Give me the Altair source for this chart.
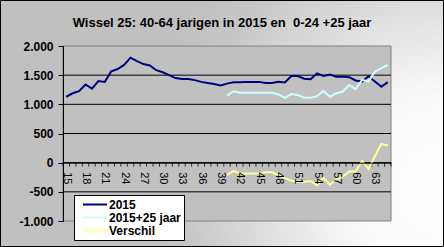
import altair as alt
import pandas as pd

# ---- data ----
ages = list(range(15, 66))
v2015 = [1130, 1190, 1225, 1340, 1270, 1400, 1385, 1565, 1605, 1675,
         1800, 1740, 1690, 1665, 1585, 1550, 1500, 1450, 1435, 1435,
         1415, 1385, 1365, 1350, 1325, 1355, 1380, 1380, 1385, 1385,
         1385, 1365, 1365, 1385, 1375, 1485, 1485, 1440, 1430, 1530,
         1485, 1510, 1475, 1475, 1465, 1410, 1390, 1480, 1390, 1300,
         1380]

ages_late = list(range(40, 66))
v_plus25 = [1145, 1225, 1200, 1200, 1200, 1200, 1200, 1200, 1170, 1110,
            1175, 1160, 1115, 1115, 1140, 1230, 1130, 1190, 1220, 1330,
            1260, 1420, 1390, 1560, 1620, 1675]
v_diff = [-210, -145, -180, -185, -185, -185, -165, -165, -215, -265,
          -310, -325, -325, -315, -390, -255, -380, -285, -240, -150,
          -150, 30, -110, 110, 320, 295]

series_names = ["2015", "2015+25 jaar", "Verschil"]
series_colors = ["#000080", "#CCFFFF", "#FFFF99"]

y_ticks = [-1000, -500, 0, 500, 1000, 1500, 2000]
grid_vals = [-500, 0, 500, 1000, 1500]
x_label_vals = ages[::3]
tick_bounds = [a - 0.5 for a in ages] + [ages[-1] + 0.5]

title_text = "Wissel 25: 40-64 jarigen in 2015 en\u00a0 0-24 +25 jaar"

# ---- tables ----
rows = []
for a, v in zip(ages, v2015):
    rows.append({"series": series_names[0], "age": a, "value": v})
for a, v in zip(ages_late, v_plus25):
    rows.append({"series": series_names[1], "age": a, "value": v})
for a, v in zip(ages_late, v_diff):
    rows.append({"series": series_names[2], "age": a, "value": v})
df = pd.DataFrame(rows)

W, H = 328, 175
PAD = {"left": 63, "top": 46, "right": 53, "bottom": 26}
FONT = "Liberation Sans"

xscale = alt.Scale(domain=[ages[0] - 0.5, ages[-1] + 0.5], nice=False, zero=False)
yscale = alt.Scale(domain=[y_ticks[0], y_ticks[-1]], nice=False, zero=False)
zero_offset = -(H - H * (y_ticks[-1] - 0) / (y_ticks[-1] - y_ticks[0]))

x_axis = alt.Axis(values=x_label_vals, offset=zero_offset, labelAngle=90,
                  ticks=False, domainColor="black", domainWidth=1,
                  labelFont=FONT, labelFontSize=11, labelColor="black",
                  labelPadding=9, grid=False, labelFlush=False,
                  labelOverlap=False, zindex=1)
y_axis = alt.Axis(values=y_ticks,
                  labelExpr="(datum.value < 0 ? '-' : '') + replace(format(abs(datum.value), ','), ',', '.')",
                  labelFont=FONT, labelFontSize=12, labelFontWeight="bold",
                  labelColor="black", tickSize=5, tickColor="black",
                  domainColor="black", labelPadding=5, grid=False, zindex=1)

one = pd.DataFrame({"k": [0]})

grad = alt.RadialGradient(
    gradient="radial",
    stops=[alt.GradientStop(color="#ffffff", offset=0),
           alt.GradientStop(color="#fafafa", offset=0.3),
           alt.GradientStop(color="#c6c6c6", offset=0.85),
           alt.GradientStop(color="#c0c0c0", offset=1)],
    x1=1, y1=0.65, r1=0, x2=1, y2=0.65, r2=0.7,
)

bg = alt.Chart(one).mark_rect(fill=grad, stroke="black", strokeWidth=1).encode(
    x=alt.value(-PAD["left"] + 0.5), x2=alt.value(W + PAD["right"] - 0.5),
    y=alt.value(-PAD["top"] + 0.5), y2=alt.value(H + PAD["bottom"] - 0.5),
)

plotbg = alt.Chart(one).mark_rect(fill="#c0c0c0", stroke="#808080", strokeWidth=1).encode(
    x=alt.value(0), x2=alt.value(W), y=alt.value(0), y2=alt.value(H),
)

title = alt.Chart(pd.DataFrame({"t": [title_text]})).mark_text(
    font=FONT, fontSize=13, fontWeight="bold", color="black",
    align="center", baseline="alphabetic"
).encode(text="t:N", x=alt.value(W / 2 - 5), y=alt.value(-19))

grid = alt.Chart(pd.DataFrame({"v": grid_vals})).mark_rule(color="black", strokeWidth=1).encode(
    y=alt.Y("v:Q", scale=yscale, axis=y_axis, title=None),
)

ticks = alt.Chart(pd.DataFrame({"b": tick_bounds, "z": [0] * len(tick_bounds)})).mark_tick(
    orient="vertical", size=4, thickness=1, color="black", yOffset=2
).encode(
    x=alt.X("b:Q", scale=xscale, axis=x_axis, title=None),
    y=alt.Y("z:Q", scale=yscale, axis=y_axis, title=None),
)

lines = alt.Chart(df).mark_line(strokeWidth=2).encode(
    x=alt.X("age:Q", scale=xscale, title=None, axis=x_axis),
    y=alt.Y("value:Q", scale=yscale, title=None, axis=y_axis),
    color=alt.Color("series:N", title=None,
                    scale=alt.Scale(domain=series_names, range=series_colors),
                    sort=series_names,
                    legend=alt.Legend(orient="none", legendX=11, legendY=149,
                                      strokeColor="black", fillColor="white", padding=3,
                                      symbolType="stroke", symbolSize=576, symbolStrokeWidth=2,
                                      symbolOffset=5,
                                      labelFont=FONT, labelFontSize=12, labelFontWeight="bold",
                                      labelColor="black", clipHeight=13, rowPadding=0,
                                      labelOffset=1)),
)

chart = alt.layer(bg, plotbg, title, grid, ticks, lines).properties(
    width=W, height=H,
    padding=PAD,
    autosize=alt.AutoSizeParams(type="none"),
).configure_view(stroke="transparent")

chart.save("out.html", embed_options={"renderer": "svg", "actions": False})
